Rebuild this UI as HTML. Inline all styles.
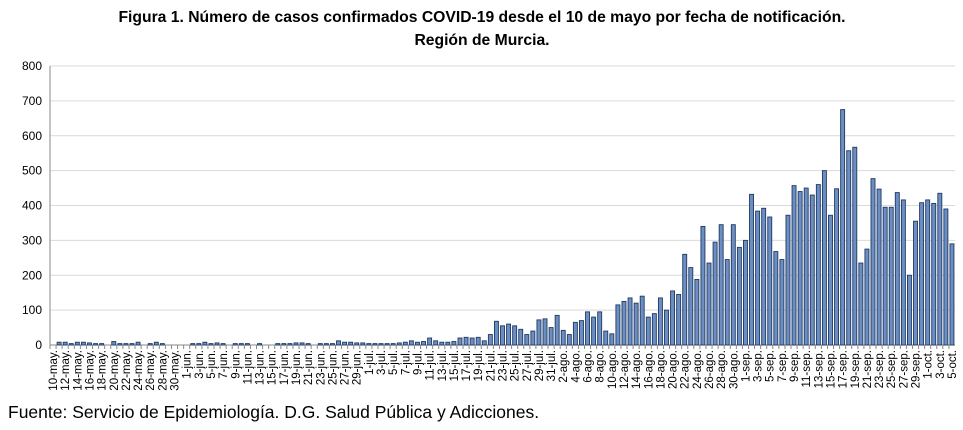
<!DOCTYPE html>
<html><head><meta charset="utf-8"><style>
body{margin:0;background:#fff;width:963px;height:425px;overflow:hidden}
</style></head><body>
<svg id="s" width="963" height="425" xmlns="http://www.w3.org/2000/svg" font-family="Liberation Sans, sans-serif">
<text x="482" y="22" text-anchor="middle" font-size="15.7" font-weight="bold">Figura 1. Número de casos confirmados COVID-19 desde el 10 de mayo por fecha de notificación.</text>
<text x="482" y="45" text-anchor="middle" font-size="15.7" font-weight="bold">Región de Murcia.</text>
<g id="g"></g>
<text x="8" y="418" font-size="17.5">Fuente: Servicio de Epidemiología. D.G. Salud Pública y Adicciones.</text>
</svg>
<script>
const v=[0,8,8,4,8,8,6,4,4,0,10,4,4,4,8,0,4,8,4,0,0,0,
0,4,4,8,4,6,4,0,4,4,4,0,4,0,0,4,4,4,6,6,4,0,4,4,4,12,8,8,6,6,
4,4,4,4,4,6,8,12,8,10,20,12,8,8,10,20,22,20,22,12,30,68,55,60,55,45,30,40,72,75,50,
85,42,30,65,70,95,80,95,40,32,115,125,135,120,140,80,90,135,100,155,145,260,222,188,340,235,295,345,245,345,280,
300,432,384,392,367,268,245,372,457,440,450,430,460,500,372,448,675,557,567,235,275,477,447,395,395,437,416,200,355,408,
416,406,435,390,290];
const x0=50,x1=955,y0=345,y8=66,n=v.length,st=(x1-x0)/n,sc=(y0-y8)/800;
let h='';
for(let i=0;i<=8;i++){const y=y0-i*100*sc;
 if(i>0)h+=`<line x1="${x0}" x2="${x1}" y1="${y}" y2="${y}" stroke="#d9d9d9"/>`;
 h+=`<text x="42" y="${y+4}" text-anchor="end" font-size="12">${i*100}</text>`;}
h+=`<line x1="${x0}" x2="${x0}" y1="${y8}" y2="${y0}" stroke="#888"/>`;
h+=`<line x1="${x0}" x2="${x1}" y1="${y0}" y2="${y0}" stroke="#888"/>`;
const mo=[['may.',10,31],['jun.',1,30],['jul.',1,31],['ago.',1,31],['sep.',1,30],['oct.',1,5]];
let k=0;
for(const [m,a,b] of mo)for(let d=a;d<=b;d++){
 const cx=x0+(k+0.5)*st, hh=v[k]*sc;
 if(v[k]>0)h+=`<rect x="${cx-2}" y="${y0-hh}" width="4" height="${hh}" fill="#6d8ec2" stroke="#1f3a63" stroke-width="0.9"/>`;
 h+=`<line x1="${x0+k*st}" x2="${x0+k*st}" y1="${y0}" y2="${y0+4}" stroke="#888"/>`;
 if(k%2==0)h+=`<text transform="translate(${cx+4},${y0+5}) rotate(-90)" text-anchor="end" font-size="11.5">${d}-${m}</text>`;
 k++;}
document.getElementById('g').innerHTML=h;
</script>
</body></html>
